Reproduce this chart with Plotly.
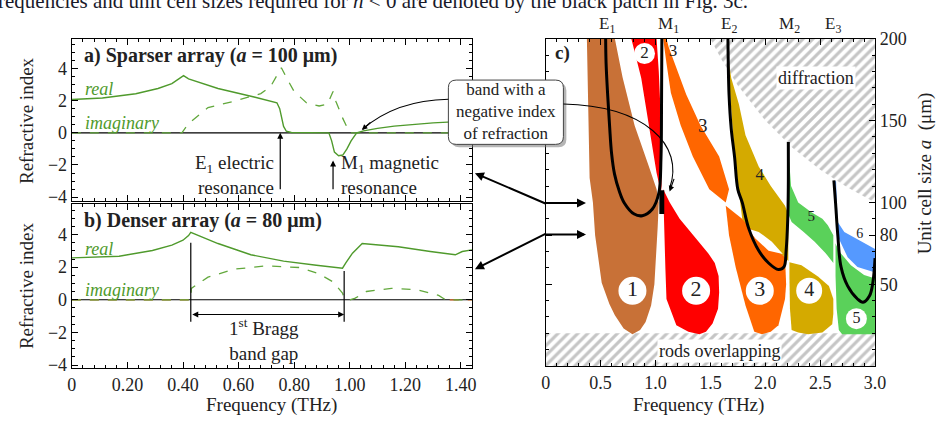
import plotly.graph_objects as go

W, H = 947, 423
FONT = "Liberation Serif"
GREEN = "#4f9a2c"

# ---------------- Panel a (a = 100 um) ----------------
fa_real = [0, 0.11, 0.23, 0.31, 0.36, 0.385, 0.402, 0.42, 0.526, 0.656, 0.738, 0.748, 0.755, 0.762, 0.772, 0.79,
           0.925, 0.935, 0.945, 0.96, 0.975, 0.99, 1.005, 1.025, 1.05, 1.10, 1.16, 1.23, 1.30, 1.37, 1.44]
na_real = [2.07, 2.17, 2.43, 2.76, 3.06, 3.36, 3.56, 3.36, 2.76, 2.23, 1.87, 1.5, 0.9, 0.4, 0.1, 0.02,
           0.0, -0.5, -1.2, -1.42, -1.38, -1.0, -0.5, 0.0, 0.12, 0.28, 0.42, 0.54, 0.62, 0.68, 0.71]
fa_imag = [0, 0.396, 0.42, 0.49, 0.585, 0.68, 0.715, 0.754, 0.775, 0.80, 0.845, 0.89, 0.92, 0.94, 0.95, 0.975, 1.0, 1.44]
na_imag = [0, 0, 0.58, 1.57, 1.97, 2.44, 2.87, 4.05, 3.35, 2.57, 1.86, 1.67, 1.78, 2.57, 1.97, 0.9, 0.0, 0]

# ---------------- Panel b (a = 80 um) ----------------
fb_real = [0, 0.17, 0.29, 0.36, 0.40, 0.42, 0.428, 0.467, 0.526, 0.644, 0.762, 0.88, 0.974, 0.986, 1.01, 1.045,
           1.175, 1.29, 1.38, 1.405, 1.44]
nb_real = [2.57, 2.67, 3.02, 3.35, 3.65, 3.94, 4.14, 3.88, 3.45, 2.76, 2.37, 2.12, 1.94, 2.27, 2.86, 3.45,
           3.25, 2.96, 2.76, 2.96, 3.06]
fb_imag = [0, 0.428, 0.43, 0.49, 0.585, 0.70, 0.82, 0.89, 0.94, 0.974, 0.98, 1.0, 1.02, 1.06, 1.15, 1.245, 1.32, 1.345, 1.44]
nb_imag = [0, 0, 0.7, 1.39, 1.88, 2.08, 1.98, 1.59, 1.1, 0.41, 0.1, 0.0, 0.1, 0.51, 0.7, 0.61, 0.27, 0.0, 0]
bragg_lo, bragg_hi = 0.428, 0.98

freq_ticks = [0, 0.2, 0.4, 0.6, 0.8, 1.0, 1.2, 1.4]
freq_ticktext = ["0", "0.20", "0.40", "0.60", "0.80", "1.00", "1.20", "1.40"]
n_ticks = [-4, -2, 0, 2, 4]

# ---------------- Panel c: bands (frequency THz, unit cell a um) ----------------
band1_f = [0.375, 0.385, 0.395, 0.40, 0.43, 0.45, 0.51, 0.58, 0.63, 0.71, 0.79, 0.86, 0.91, 0.96, 0.99, 1.0, 1.02, 1.03,
           1.02, 1.01, 0.94, 0.81, 0.70, 0.63]
band1_a = [200, 170, 140, 115, 100, 80, 51, 38, 31, 23, 19.5, 22, 27, 37, 50, 60, 85, 100,
           106, 108, 122, 147, 176.5, 200]
band2u_f = [0.78, 1.01, 1.03, 1.05, 1.055, 1.05, 1.01, 0.94, 0.87]
band2u_a = [200, 200, 180, 150, 110, 106, 118, 147, 176]
band2l_f = [1.07, 1.13, 1.22, 1.32, 1.40, 1.48, 1.54, 1.575, 1.58, 1.57, 1.52, 1.46, 1.40, 1.30, 1.19, 1.10, 1.09, 1.08]
band2l_a = [108, 100, 90, 82, 76, 69, 63, 55, 45, 35, 26, 21, 19.5, 21, 25, 41, 60, 85]
band3u_f = [1.07, 1.10, 1.12, 1.20, 1.28, 1.41, 1.58, 1.67, 1.64, 1.49, 1.34, 1.23, 1.14, 1.10]
band3u_a = [200, 200, 195, 180, 166, 147, 128, 108, 100, 108, 128, 147, 167, 185]
band3l_f = [1.64, 1.90, 2.05, 2.18, 2.19, 2.18, 2.12, 2.05, 1.97, 1.90, 1.82, 1.73, 1.67]
band3l_a = [98, 84, 75, 66.5, 50, 41, 25, 21, 19.5, 21, 37, 60.6, 80]
band4u_f = [1.67, 1.69, 1.76, 1.82, 1.94, 2.05, 2.18, 2.21, 2.21, 2.18, 2.0, 1.85, 1.79, 1.77, 1.72, 1.68]
band4u_a = [185, 176, 160, 141, 122, 110, 98, 93, 64, 66.5, 76.5, 85, 90, 100, 128, 166]
lens1_f = [1.84, 1.94, 2.06, 2.16, 2.03, 1.91]
lens1_a = [84, 82, 76, 68.5, 70.5, 78]
band4l_f = [2.22, 2.33, 2.48, 2.58, 2.62, 2.62, 2.61, 2.52, 2.39, 2.30, 2.24, 2.225, 2.22]
band4l_a = [63.5, 61.6, 54.7, 49, 41, 32, 25.5, 20.5, 19.5, 20.5, 22, 35, 55]
band5u_f = [2.215, 2.235, 2.30, 2.42, 2.52, 2.57, 2.62, 2.62, 2.55, 2.45, 2.35, 2.24, 2.215]
band5u_a = [128, 110, 100, 94, 90, 86, 80, 63, 69, 76, 82, 88, 92]
band5l_f = [2.64, 2.67, 2.78, 2.90, 2.98, 3.0, 3.0, 2.70, 2.67, 2.65, 2.64]
band5l_a = [75, 70.4, 61.6, 55.7, 54, 54, 19.5, 19.5, 22, 35, 55]
band6_f = [2.635, 2.645, 2.655, 2.66, 2.72, 2.85, 2.98, 3.0, 3.0, 2.98, 2.84, 2.75, 2.67, 2.645]
band6_a = [113, 113, 95, 88, 82, 77, 72, 71.5, 57.5, 57.7, 60.6, 66.5, 78, 90]
neg_patch_f = [1.035, 1.08, 1.08, 1.035]
neg_patch_a = [93, 93, 107.5, 107.5]

# resonance curves
res1_f = [0.546, 0.55, 0.565, 0.582, 0.60, 0.627, 0.67, 0.716, 0.806, 0.88, 0.97, 1.03, 1.05, 1.055, 1.058]
res1_a = [200, 185, 165, 146.6, 130, 117.3, 107, 99.7, 92.9, 91.9, 95.8, 105.6, 127, 160, 200]
res2_f = [1.66, 1.67, 1.69, 1.72, 1.75, 1.79, 1.85, 1.94, 2.03, 2.12, 2.17, 2.19, 2.205, 2.21, 2.21]
res2_a = [200, 166, 145, 128, 108, 100, 84, 70.6, 63, 59, 60.6, 70.6, 90, 110, 137]
res3_f = [2.625, 2.64, 2.66, 2.69, 2.75, 2.84, 2.89, 2.95, 2.98, 3.0]
res3_a = [113.5, 100, 80.6, 60.6, 49, 41, 39, 43, 51, 66]

# forbidden regions
diffr_f = [1.5, 1.6, 1.75, 2.0, 2.25, 2.5, 2.75, 3.0, 3.0]
diffr_a = [200, 187.5, 171.4, 150, 133.3, 120, 109.1, 100, 200]
rods_f = [0, 3, 3, 0]
rods_a = [0, 0, 20, 20]

res_labels = ["E<sub>1</sub>", "M<sub>1</sub>", "E<sub>2</sub>", "M<sub>2</sub>", "E<sub>3</sub>"]
res_label_f = [0.555, 1.12, 1.67, 2.22, 2.62]

circ_text = ["1", "2", "3", "4", "5", "2"]
circ_f = [0.79, 1.37, 1.95, 2.40, 2.83, 0.90]
circ_a = [46, 46, 46, 46, 29, 191]
plain_text = ["3", "3", "4", "5", "6"]
plain_f = [1.16, 1.43, 1.95, 2.42, 2.86]
plain_a = [192, 146, 116, 91, 80.5]

c_xticks = [0, 0.5, 1.0, 1.5, 2.0, 2.5, 3.0]
c_xticktext = ["0", "0.5", "1.0", "1.5", "2.0", "2.5", "3.0"]
c_yticks = [50, 80, 100, 150, 200]

# ---------------- helpers ----------------
def px(x):
    return x / W

def py(y):
    return 1 - y / H

fig = go.Figure()

def line_trace(x, y, xa, ya, color, width=1.3, dash=None, shape="linear"):
    fig.add_trace(go.Scatter(x=x, y=y, mode="lines", xaxis=xa, yaxis=ya, hoverinfo="skip",
                             line=dict(color=color, width=width, dash=dash, shape=shape)))

def poly(x, y, color, pattern=None):
    kw = {}
    if pattern:
        kw["fillpattern"] = pattern
    fig.add_trace(go.Scatter(x=list(x) + [x[0]], y=list(y) + [y[0]], mode="lines", fill="toself",
                             fillcolor=color, line=dict(width=0, color=color), xaxis="x3", yaxis="y3",
                             hoverinfo="skip", **kw))

# panel a/b curves
line_trace([0, 0.42], [0, 0], "x2", "y2", "#e07030", 1.2, "dash")
line_trace([1.36, 1.44], [0, 0], "x2", "y2", "#e07030", 1.2, "dash")
line_trace(fa_imag, na_imag, "x", "y", "#62a83c", 1.3, "dash")
line_trace(fa_real, na_real, "x", "y", GREEN, 1.4)
line_trace(fb_imag, nb_imag, "x2", "y2", "#62a83c", 1.3, "dash")
line_trace(fb_real, nb_real, "x2", "y2", GREEN, 1.4)

# panel c hatched regions
hatch = dict(shape="/", fgcolor="#8c8c8c", bgcolor="white", size=7, solidity=0.45)
poly(diffr_f, diffr_a, "white", hatch)
poly(rods_f, rods_a, "white", hatch)

# bands
poly(band1_f, band1_a, "#c87137")
poly(band2u_f, band2u_a, "#ff0000")
poly(band2l_f, band2l_a, "#ff0000")
poly(band3u_f, band3u_a, "#ff6600")
poly(band3l_f, band3l_a, "#ff6600")
poly(band4u_f, band4u_a, "#d4aa00")
poly(lens1_f, lens1_a, "white")
poly(band4l_f, band4l_a, "#d4aa00")
poly(band5u_f, band5u_a, "#5ad15a")
poly(band5l_f, band5l_a, "#5ad15a")
poly(band6_f, band6_a, "#5599ff")
poly(neg_patch_f, neg_patch_a, "black")

# resonance curves
line_trace(res1_f, res1_a, "x3", "y3", "black", 3, shape="spline")
line_trace(res2_f, res2_a, "x3", "y3", "black", 3, shape="spline")
line_trace(res3_f, res3_a, "x3", "y3", "black", 3, shape="spline")

# circled numbers
fig.add_trace(go.Scatter(x=circ_f, y=circ_a, mode="markers+text", text=circ_text, xaxis="x3", yaxis="y3",
                         textposition="middle center", hoverinfo="skip", opacity=1,
                         marker=dict(size=[28, 28, 28, 26, 21, 21], color="white", opacity=1,
                                     line=dict(width=0, color="white")),
                         textfont=dict(family=FONT, size=[22, 22, 22, 20, 16, 17], color="#222")))
fig.add_trace(go.Scatter(x=plain_f, y=plain_a, mode="text", text=plain_text, xaxis="x3", yaxis="y3",
                         textposition="middle center", hoverinfo="skip",
                         textfont=dict(family=FONT, size=[17, 19, 17, 15, 14], color="#222")))

# ---------------- axes ----------------
axis_common = dict(showline=True, linecolor="black", linewidth=1.3, mirror="ticks", ticks="inside",
                   ticklen=6, tickwidth=1, tickcolor="black", showgrid=False, zeroline=False,
                   tickfont=dict(family=FONT, size=18, color="#222"))
minor_x = dict(ticks="inside", ticklen=3, dtick=0.04, tickcolor="black", showgrid=False)
minor_y = dict(ticks="inside", ticklen=3, dtick=0.5, tickcolor="black", showgrid=False)

fig.update_layout(
    width=W, height=H, margin=dict(l=0, r=0, t=0, b=0),
    paper_bgcolor="white", plot_bgcolor="white", showlegend=False,
    font=dict(family=FONT, size=18, color="#222"),
    xaxis=dict(domain=[px(68), px(475)], range=[0, 1.44], anchor="y", tickvals=freq_ticks,
               showticklabels=False, minor=minor_x, **axis_common),
    yaxis=dict(domain=[py(199), py(30)], range=[-4.24, 5.85], anchor="x", tickvals=n_ticks,
               minor=minor_y, **axis_common),
    xaxis2=dict(domain=[px(68), px(475)], range=[0, 1.44], anchor="y2", tickvals=freq_ticks,
                ticktext=freq_ticktext, minor=minor_x, **axis_common),
    yaxis2=dict(domain=[py(373), py(202)], range=[-4.18, 5.88], anchor="x2", tickvals=n_ticks,
                minor=minor_y, **axis_common),
    xaxis3=dict(domain=[px(550), px(885)], range=[0, 3], anchor="y3", tickvals=c_xticks,
                ticktext=c_xticktext, minor=dict(ticks="inside", ticklen=3, dtick=0.1, tickcolor="black"),
                **axis_common),
    yaxis3=dict(domain=[py(371), py(30)], range=[0, 200], anchor="x3", side="right", tickvals=c_yticks,
                minor=dict(ticks="inside", ticklen=3, dtick=10, tickcolor="black"), **axis_common),
)

shapes = []
# zero lines
for xa, ya in (("x", "y"), ("x2", "y2")):
    shapes.append(dict(type="line", xref=xa, yref=ya, x0=0, x1=1.44, y0=0, y1=0,
                       line=dict(color="black", width=1.1), layer="below"))
# Bragg bracket
shapes.append(dict(type="line", xref="x2", yref="y2", x0=bragg_lo, x1=bragg_lo, y0=3.5, y1=-1.35,
                   line=dict(color="black", width=1.2)))
shapes.append(dict(type="line", xref="x2", yref="y2", x0=bragg_hi, x1=bragg_hi, y0=1.76, y1=-1.35,
                   line=dict(color="black", width=1.2)))


def ppath(pts_cmds):
    out = []
    for item in pts_cmds:
        if isinstance(item, str):
            out.append(item)
        else:
            out.append("%.5f,%.5f" % (px(item[0]), py(item[1])))
    return " ".join(out)


def rounded(x0, y0, x1, y1, r):
    return ppath(["M", (x0 + r, y0), "L", (x1 - r, y0), "Q", (x1, y0), (x1, y0 + r),
                  "L", (x1, y1 - r), "Q", (x1, y1), (x1 - r, y1), "L", (x0 + r, y1),
                  "Q", (x0, y1), (x0, y1 - r), "L", (x0, y0 + r), "Q", (x0, y0), (x0 + r, y0), "Z"])

# callout box with shadow
shapes.append(dict(type="path", xref="paper", yref="paper", path=rounded(454, 76, 571, 143, 8),
                   fillcolor="rgba(120,120,120,0.55)", line=dict(width=0), layer="above"))
shapes.append(dict(type="path", xref="paper", yref="paper", path=rounded(451, 73, 568, 140, 8),
                   fillcolor="white", line=dict(color="#444", width=1), layer="above"))
# curved arrows from callout
shapes.append(dict(type="path", xref="paper", yref="paper",
                   path=ppath(["M", (451, 93), "Q", (398, 94), (364, 124)]),
                   line=dict(color="black", width=1.1), layer="above"))
shapes.append(dict(type="path", xref="paper", yref="paper",
                   path=ppath(["M", (568, 98), "C", (650, 100), (692, 140), (676, 186)]),
                   line=dict(color="black", width=1.1), layer="above"))
fig.update_layout(shapes=shapes)

ann = []
def text(x, y, t, size=18, xanchor="center", yanchor="middle", bold=False, italic=False, color="#222",
         xref="paper", yref="paper", align="center", bg=None, angle=0):
    if bold:
        t = "<b>" + t + "</b>"
    if italic:
        t = "<i>" + t + "</i>"
    d = dict(x=x, y=y, xref=xref, yref=yref, text=t, showarrow=False, xanchor=xanchor, yanchor=yanchor,
             align=align, textangle=angle, font=dict(family=FONT, size=size, color=color))
    if bg:
        d.update(bgcolor=bg, borderpad=1)
    ann.append(d)

def arrow(x, y, ax, ay, width=1.2, head=2, size=1.0, xref="paper", yref="paper", axref="pixel", ayref="pixel", side="end"):
    ann.append(dict(x=x, y=y, ax=ax, ay=ay, xref=xref, yref=yref, axref=axref, ayref=ayref, text="",
                    showarrow=True, arrowhead=head, arrowsize=size, arrowwidth=width, arrowcolor="black",
                    arrowside=side, standoff=0, startstandoff=0))

# top running text (cut off at the top edge)
text(px(-16), py(5), "frequencies and unit cell sizes required for <i>n</i> &lt; 0 are denoted by the black patch in Fig. 3c.",
     size=21, xanchor="left", yanchor="bottom", color="#1a1a2a")

# panel titles
text(px(78), py(47), "a) Sparser array (<i>a</i> = 100 μm)", size=20, xanchor="left", bold=True)
text(px(78), py(219), "b) Denser array (<i>a</i> = 80 μm)", size=20, xanchor="left", bold=True)
text(px(557), py(45), "c)", size=19, xanchor="left", bold=True)

# curve labels
text(0.04, 2.72, "real", 18, xanchor="left", italic=True, color=GREEN, xref="x", yref="y")
text(0.04, 0.62, "imaginary", 18, xanchor="left", italic=True, color=GREEN, xref="x", yref="y")
text(0.04, 3.1, "real", 18, xanchor="left", italic=True, color=GREEN, xref="x2", yref="y2")
text(0.04, 0.62, "imaginary", 18, xanchor="left", italic=True, color=GREEN, xref="x2", yref="y2")

# resonance annotations in panel a
text(0.735, -2.62, "E<sub>1</sub> electric<br>resonance", 19, xanchor="right", align="right", xref="x", yref="y")
text(0.962, -2.62, "M<sub>1</sub> magnetic<br>resonance", 19, xanchor="left", align="left", xref="x", yref="y")
arrow(0.75, 0, 0.75, -3.6, xref="x", yref="y", axref="x", ayref="y", width=1.2)
arrow(0.94, -1.72, 0.94, -3.6, xref="x", yref="y", axref="x", ayref="y", width=1.2)

# Bragg gap
arrow(bragg_hi, -0.9, bragg_lo, -0.9, xref="x2", yref="y2", axref="x2", ayref="y2", width=1.2, side="end+start")
text(0.69, -2.45, "1<sup>st</sup> Bragg<br>band gap", 19, xref="x2", yref="y2")

# axis titles
text(px(22), py(115), "Refractive index", 19, angle=-90)
text(px(22), py(287), "Refractive index", 19, angle=-90)
text(px(271), py(412), "Frequency (THz)", 19)
text(px(705), py(412), "Frequency (THz)", 19)
text(px(936), py(170), "Unit cell size <i>a</i>  (μm)", 19, angle=-90)

# resonance labels on top of panel c
for lab, f in zip(res_labels, res_label_f):
    text(px(550 + f * 111.67), py(16), lab, 17)

# forbidden region labels
text(2.46, 176, "diffraction", 18, xref="x3", yref="y3", bg="white")
text(1.58, 9, "rods overlapping", 18, xref="x3", yref="y3", bg="white")

# callout text
text(px(510), py(106), "band with a<br>negative index<br>of refraction", 17)

# arrowheads of callout curves
arrow(px(363), py(125), 10, -9, width=1.1, head=2, size=1.0)
arrow(px(676), py(189), 5, -14, width=1.1, head=2, size=1.0)

# double arrows linking panels
arrow(px(478), py(170), 72, 31, width=2, head=2, size=0.9)
arrow(px(591), py(201), -42, 0, width=2, head=2, size=0.9)
arrow(px(478), py(270), 72, -36, width=2, head=2, size=0.9)
arrow(px(591), py(234), -42, 0, width=2, head=2, size=0.9)

fig.update_layout(annotations=ann)

fig.write_html("out.html", config={"displayModeBar": False},
               post_script="document.body.style.margin='0px';")
